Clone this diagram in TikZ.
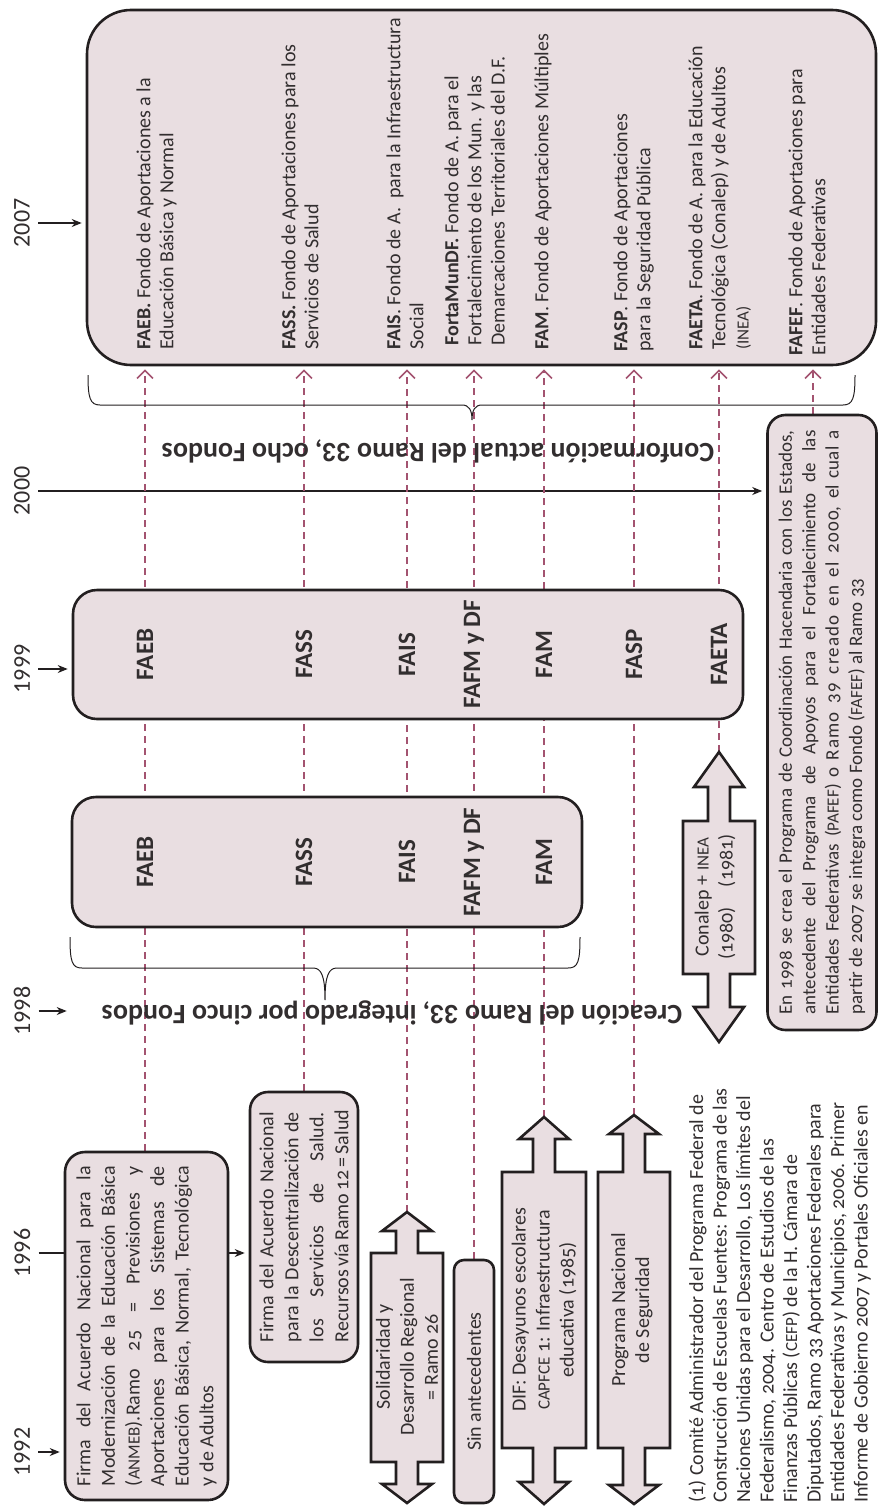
\documentclass[tikz,border=0pt]{standalone}
\usepackage{fontspec}
\setmainfont{Carlito}[Numbers=OldStyle]
\newfontfamily\linfont{Carlito}
\newfontfamily\spfont{Carlito}[Numbers=OldStyle,LetterSpace=6]
\usepackage{tikz}
\usetikzlibrary{arrows.meta, backgrounds}
\definecolor{boxfill}{RGB}{233,222,225}
\definecolor{boxline}{RGB}{35,31,32}
\definecolor{mauve}{RGB}{163,83,112}
\definecolor{ink}{RGB}{50,46,47}
\tikzstyle{panel} = [draw=boxline, line width=1.3pt, fill=boxfill, rounded corners=12pt, inner sep=0pt, text=ink]
\tikzstyle{yr} = [rotate=90, inner sep=4pt, text=ink, font=\linfont\fontsize{12}{14}\selectfont]
\tikzstyle{tline} = [-{Stealth[length=5pt,width=4pt]}, line width=0.6pt, draw=boxline, shorten >=2pt]
\tikzstyle{fund} = [-{Straight Barb[length=4pt,width=8pt]}, mauve, line width=0.8pt, dash pattern=on 3.5pt off 2.5pt, shorten >=1.5pt]
\tikzstyle{fundtag} = [rotate=90, text=ink, font=\linfont\bfseries\fontsize{12.5}{14}\selectfont]
\tikzstyle{fundtext} = [rotate=90, anchor=north west, align=left, inner sep=0pt, text=ink, font=\fontsize{10}{11.6}\selectfont]
\tikzstyle{darrowline} = [draw=boxline, line width=1.3pt, fill=boxfill]
\tikzstyle{armtext} = [rotate=90, align=center, text=ink, font=\fontsize{10}{12}\selectfont]
\tikzstyle{brc} = [draw=boxline, line width=0.5pt]
\tikzstyle{bandtitle} = [rotate=180, text=ink, font=\linfont\bfseries\fontsize{14}{16}\selectfont]
\newcommand{\sm}[1]{{\fontsize{8.5}{10}\selectfont #1}}
\newcommand{\jl}[1]{\makebox[\linewidth][s]{#1}}
% flecha doble: nombre, x, semiancho, punta sup., cuerpo sup., cuerpo inf., punta inf., largo de punta
\newcommand{\darrow}[8]{%
  \coordinate (#1-n) at (#2,#4);
  \coordinate (#1-s) at (#2,#7);
  \draw[darrowline] (#1-n) -- ({#2+25},{#4+#8}) -- ({#2+11},{#4+#8}) -- ({#2+11},#5)
    -- ({#2+#3},#5) -- ({#2+#3},#6) -- ({#2+11},#6) -- ({#2+11},{#7-#8})
    -- ({#2+25},{#7-#8}) -- (#1-s) -- ({#2-25},{#7-#8}) -- ({#2-11},{#7-#8})
    -- ({#2-11},#6) -- ({#2-#3},#6) -- ({#2-#3},#5) -- ({#2-11},#5)
    -- ({#2-11},{#4+#8}) -- ({#2-25},{#4+#8}) -- cycle;
}

\begin{document}
\begin{tikzpicture}[x=0.5pt, y=-0.5pt]
  \useasboundingbox (0,0) rectangle (878,1509);

  % columnas de los fondos
  \coordinate (cFAEB) at (145,0);
  \coordinate (cFASS) at (304,0);
  \coordinate (cFAIS) at (407,0);
  \coordinate (cFAFM) at (474,0);
  \coordinate (cFAM) at (544,0);
  \coordinate (cFASP) at (634,0);
  \coordinate (cFAETA) at (719,0);
  \coordinate (cFAFEF) at (813,0);

  % años
  \node[yr] (y92) at (22,1452) {1992};
  \node[yr] (y96) at (22,1253) {1996};
  \node[yr] (y98) at (22,1011) {1998};
  \node[yr] (y99) at (22,669) {1999};
  \node[yr] (y00) at (22,491) {2000};
  \node[yr] (y07) at (22,223) {2007};

  % recuadros
  \node[panel, rounded corners=22pt, minimum width=394.5pt, minimum height=177.5pt] (b07) at (481.5,187.5) {};
  \node[panel, minimum width=335pt, minimum height=64.5pt] (b99) at (408,654.5) {};
  \node[panel, minimum width=255pt, minimum height=65pt] (b98) at (327,862) {};
  \node[panel, rounded corners=10pt, minimum width=81.5pt, minimum height=174pt,
        font=\fontsize{10}{12.3}\selectfont] (b92) at (146.5,1326)
    {\rotatebox{90}{\parbox{160pt}{\jl{Firma del Acuerdo Nacional para la}\\
     \jl{Modernización de la Educación Básica}\\
     \jl{(\sm{ANMEB}).Ramo 25 = Previsiones y}\\
     \jl{Aportaciones para los Sistemas de}\\
     \jl{Educación Básica, Normal, Tecnológica}\\
     y de Adultos}}};
  \node[panel, rounded corners=9pt, minimum width=54pt, minimum height=135pt,
        font=\fontsize{10}{12.5}\selectfont] (b96) at (304,1227)
    {\rotatebox{90}{\parbox{115pt}{\jl{Firma del Acuerdo Nacional}\\
     \jl{para la Descentralización de}\\
     \jl{los Servicios de Salud.}\\
     \jl{Recursos vía Ramo 12 = Salud}}}};
  \node[panel, rounded corners=5pt, minimum width=20pt, minimum height=121.5pt,
        font=\fontsize{10}{12}\selectfont] (bsin) at (474,1381.5)
    {\rotatebox{90}{Sin antecedentes}};
  \node[panel, rounded corners=9pt, minimum width=54.5pt, minimum height=307.5pt,
        font=\fontsize{9.5}{11.7}\selectfont] (b00) at (822,722.5)
    {\rotatebox{90}{\parbox{292pt}{\jl{En 1998 se crea el Programa de Coordinación Hacendaria con los Estados,}\\
     \jl{antecedente del Programa de Apoyos para el Fortalecimiento de las}\\
     \jl{Entidades Federativas (\sm{PAFEF}) o {\spfont Ramo 39 creado en el 2000}, el cual a}\\
     partir de 2007 se integra como Fondo (\sm{FAFEF}) al Ramo 33}}};

  % antecedentes
  \darrow{sol}{407}{36}{1212}{1253}{1462}{1503}{19}
  \darrow{dif}{544}{42}{1117}{1172}{1448}{1504}{22}
  \darrow{prg}{634}{36}{1115}{1172}{1448}{1504}{19}
  \darrow{cnl}{719}{36}{752}{821}{974}{1042}{35}
  \node[armtext] (solT) at (407,1357) {Solidaridad y\\ Desarrollo Regional\\ = Ramo 26};
  \node[armtext] (difT) at (544,1310) {DIF: Desayunos escolares\\ \sm{CAPFCE} 1: Infraestructura\\ educativa (1985)};
  \node[armtext] (prgT) at (632,1310) {Programa Nacional\\ de Seguridad};
  \node[armtext] (cnlT) at (715,897) {Conalep + \sm{INEA}\\ (1980)\quad(1981)};

  % fondos 1998 y 1999
  \node[fundtag] (f98a) at (b98.center -| cFAEB) {FAEB};
  \node[fundtag] (f98b) at (b98.center -| cFASS) {FASS};
  \node[fundtag] (f98c) at (b98.center -| cFAIS) {FAIS};
  \node[fundtag] (f98d) at (b98.center -| cFAFM) {FAFM y DF};
  \node[fundtag] (f98e) at (b98.center -| cFAM) {FAM};
  \node[fundtag] (f99a) at (b99.center -| cFAEB) {FAEB};
  \node[fundtag] (f99b) at (b99.center -| cFASS) {FASS};
  \node[fundtag] (f99c) at (b99.center -| cFAIS) {FAIS};
  \node[fundtag] (f99d) at (b99.center -| cFAFM) {FAFM y DF};
  \node[fundtag] (f99e) at (b99.center -| cFAM) {FAM};
  \node[fundtag] (f99f) at (b99.center -| cFASP) {FASP};
  \node[fundtag] (f99g) at (b99.center -| cFAETA) {FAETA};

  % fondos 2007
  \node[fundtext] (eFAEB) at (136,350) {\textbf{FAEB.} Fondo de Aportaciones a la\\ Educación Básica y Normal};
  \node[fundtext] (eFASS) at (281,350) {\textbf{FASS.} Fondo de Aportaciones para los\\ Servicios de Salud};
  \node[fundtext] (eFAIS) at (386,350) {\textbf{FAIS}. Fondo de A.\ \ para la Infraestructura\\ Social};
  \node[fundtext] (eFAFM) at (444,346) {\textbf{FortaMunDF.} Fondo de A. para el\\ Fortalecimiento de los Mun. y las\\ Demarcaciones Territoriales del D.F.};
  \node[fundtext] (eFAM) at (534,350) {\textbf{FAM}. Fondo de Aportaciones Múltiples};
  \node[fundtext] (eFASP) at (613,352) {\textbf{FASP}. Fondo de Aportaciones\\ para la Seguridad Pública};
  \node[fundtext] (eFAETA) at (688,350) {\textbf{FAETA}. Fondo de A. para la Educación\\ Tecnológica (Conalep) y de Adultos\\ \sm{(INEA)}};
  \node[fundtext] (eFAFEF) at (788,356) {\textbf{FAFEF}. Fondo de Aportaciones para\\ Entidades Federativas};

  % llaves y títulos
  \draw[brc] (70,937) .. controls (70,962) and (72,968) .. (82,968) -- (313,968)
    .. controls (321,968) and (325,975) .. (325,1000)
    .. controls (325,975) and (329,968) .. (337,968) -- (568,968)
    .. controls (578,968) and (580,962) .. (580,937);
  \draw[brc] (88,375) .. controls (88,398) and (90,405) .. (100,405) -- (462,405)
    .. controls (469,405) and (472,410) .. (472,420)
    .. controls (472,410) and (475,405) .. (482,405) -- (843,405)
    .. controls (853,405) and (855,398) .. (855,375);
  \node[bandtitle] (t98) at (392,1013) {Creación del Ramo 33, integrado por cinco Fondos};
  \node[bandtitle] (t07) at (438,451) {Conformación actual del Ramo 33, ocho Fondos};

  % fuente
  \node[fundtext, font=\fontsize{10}{11.75}\selectfont] (fuente) at (688,1503)
    {(1) Comité Administrador del Programa Federal de\\
     Construcción de Escuelas Fuentes: Programa de las\\
     Naciones Unidas para el Desarrollo, Los límites del\\
     Federalismo, 2004. Centro de Estudios de las\\
     Finanzas Públicas (\sm{CEFP}) de la H. Cámara de\\
     Diputados, Ramo 33 Aportaciones Federales para\\
     Entidades Federativas y Municipios, 2006. Primer\\
     Informe de Gobierno 2007 y Portales Oficiales en};

  % línea de tiempo
  \draw[tline] (y92.south) -- (y92.south -| b92.west);
  \draw[tline] (y98.south) -- (y98.south -| b98.west);
  \draw[tline] (y99.south) -- (y99.south -| b99.west);
  \draw[tline] (y07.south) -- (y07.south -| b07.west);
  \begin{pgfonlayer}{background}
    \draw[tline] (y96.south) -- (y96.south -| b96.west);
    \draw[tline] (y00.south) -- (y00.south -| b00.west);
    % trayectoria de cada fondo
    \draw[fund] (b92.north -| cFAEB) -- (b07.south -| cFAEB);
    \draw[fund] (b96.north -| cFASS) -- (b07.south -| cFASS);
    \draw[fund] (sol-n) -- (sol-n |- b07.south);
    \draw[fund] (bsin.north -| cFAFM) -- (b07.south -| cFAFM);
    \draw[fund] (dif-n) -- (dif-n |- b07.south);
    \draw[fund] (prg-n) -- (prg-n |- b07.south);
    \draw[fund] (cnl-n) -- (cnl-n |- b07.south);
    \draw[fund] (b00.north -| cFAFEF) -- (b07.south -| cFAFEF);
  \end{pgfonlayer}
\end{tikzpicture}
\end{document}
